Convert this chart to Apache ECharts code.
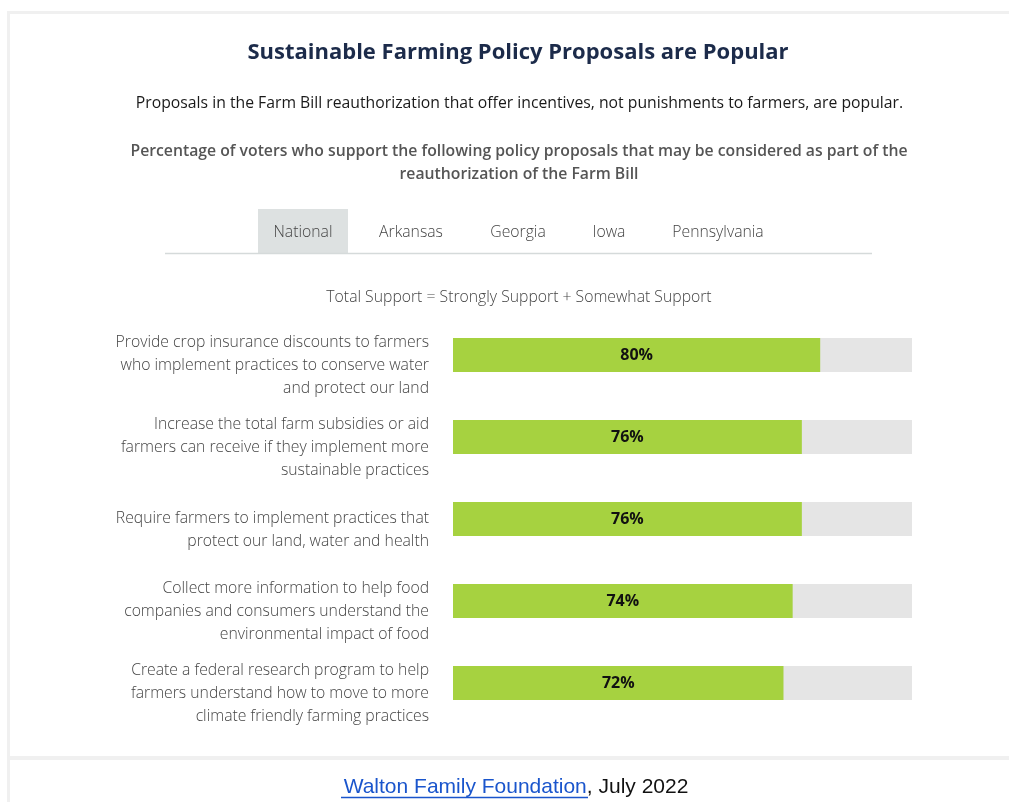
<!DOCTYPE html>
<html>
<head>
<meta charset="utf-8">
<script src="https://cdn.jsdelivr.net/npm/echarts@6/dist/echarts.min.js"></script>
<style>
  html, body { margin: 0; padding: 0; background: #ffffff; }
  #chart { width: 1009px; height: 802px; }
</style>
</head>
<body>
<div id="chart"></div>
<script>
const categories = [
  'Provide crop insurance discounts to farmers\nwho implement practices to conserve water\nand protect our land',
  'Increase the total farm subsidies or aid\nfarmers can receive if they implement more\nsustainable practices',
  'Require farmers to implement practices that\nprotect our land, water and health',
  'Collect more information to help food\ncompanies and consumers understand the\nenvironmental impact of food',
  'Create a federal research program to help\nfarmers understand how to move to more\nclimate friendly farming practices'
];
const supportValues = [80, 76, 76, 74, 72];
const tabLabels = ['National', 'Arkansas', 'Georgia', 'Iowa', 'Pennsylvania'];

const chart = echarts.init(document.getElementById('chart'), null, { renderer: 'canvas' });
const FONT = '"Open Sans", "Noto Sans", sans-serif';

function centerText(text, x, y, font, fill) {
  return { type: 'text', x: x, y: y, silent: true,
    style: { text: text, font: font + ' ' + FONT, fill: fill, align: 'center', verticalAlign: 'middle', lineHeight: 23 } };
}

const tabCenters = [303, 411, 518, 609, 718];
const tabGraphics = [
  { type: 'rect', shape: { x: 258, y: 209, width: 90, height: 44 }, style: { fill: '#dde1e1' }, silent: true },
  { type: 'line', shape: { x1: 165, y1: 253.5, x2: 872, y2: 253.5 }, style: { stroke: '#d5dada', lineWidth: 1.5 }, silent: true }
];
tabLabels.forEach((t, i) => {
  tabGraphics.push(centerText(t, tabCenters[i], 233, '300 15.75px', '#444'));
});

const option = {
  backgroundColor: '#ffffff',
  animation: false,
  graphic: [
    { type: 'rect', shape: { x: 7, y: 11, width: 1002, height: 3 }, style: { fill: '#f0f0f0' }, silent: true },
    { type: 'rect', shape: { x: 7, y: 11, width: 3, height: 791 }, style: { fill: '#f0f0f0' }, silent: true },
    { type: 'rect', shape: { x: 7, y: 756, width: 1002, height: 4 }, style: { fill: '#f0f0f0' }, silent: true },
    centerText('Sustainable Farming Policy Proposals are Popular', 518, 52.5, '700 22px', '#1c2b4a'),
    centerText('Proposals in the Farm Bill reauthorization that offer incentives, not punishments to farmers, are popular.', 519.5, 104, '400 15.75px', '#1a1a1a'),
    centerText('Percentage of voters who support the following policy proposals that may be considered as part of the\nreauthorization of the Farm Bill', 519, 163.5, '600 15.75px', '#555'),
    centerText('Total Support = Strongly Support + Somewhat Support', 519, 298, '300 15.75px', '#444'),
    ...tabGraphics,
    { type: 'text', x: 516, y: 787,
      style: { text: '{a|Walton Family Foundation}{b|, July 2022}', align: 'center', verticalAlign: 'middle',
        rich: {
          a: { fontFamily: '"Liberation Sans", Arial, sans-serif', fontSize: 21, fill: '#1a55cc' },
          b: { fontFamily: '"Liberation Sans", Arial, sans-serif', fontSize: 21, fill: '#111' }
        } }, silent: true },
    { type: 'line', shape: { x1: 341, y1: 797.5, x2: 588, y2: 797.5 }, style: { stroke: '#1a55cc', lineWidth: 1.5 }, silent: true }
  ],
  grid: { left: 453, right: 97, top: 314, height: 410, containLabel: false },
  xAxis: { type: 'value', min: 0, max: 100, show: false },
  yAxis: {
    type: 'category', data: categories, inverse: true,
    axisLine: { show: false }, axisTick: { show: false }, splitLine: { show: false },
    axisLabel: { interval: 0, showMinLabel: true, showMaxLabel: true, hideOverlap: false,
      margin: 24, fontFamily: FONT, fontWeight: 300, fontSize: 15.75, color: '#444',
      lineHeight: 23, align: 'right',
      formatter: function (v) { return '{s|}\n' + v; },
      rich: { s: { height: 22, lineHeight: 22 } } }
  },
  series: [{
    type: 'bar', data: supportValues, barWidth: 34,
    itemStyle: { color: '#a6d240' },
    showBackground: true, backgroundStyle: { color: '#e5e5e5' },
    label: { show: true, position: 'inside', formatter: '{c}%', fontFamily: FONT, fontWeight: 700, fontSize: 16, color: '#111' }
  }]
};
chart.setOption(option);
</script>
</body>
</html>
